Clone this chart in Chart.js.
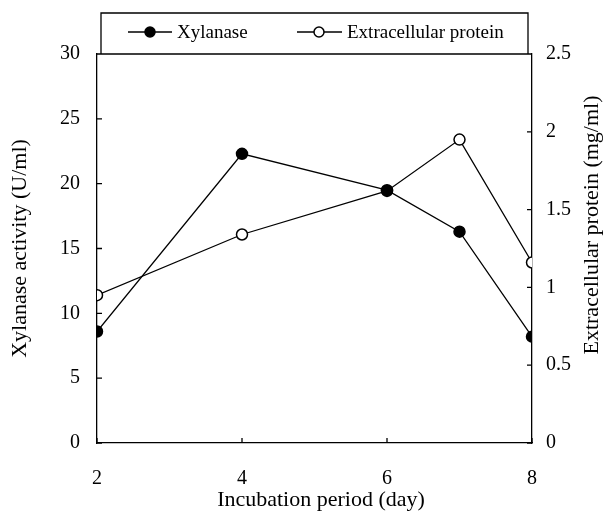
<!DOCTYPE html>
<html><head><meta charset="utf-8">
<script src="https://cdn.jsdelivr.net/npm/chart.js@4/dist/chart.umd.min.js"></script>
<style>html,body{margin:0;padding:0;background:#fff}#wrap{width:603px;height:512px}</style>
</head><body><div id="wrap"><canvas id="c" width="603" height="512"></canvas></div>
<script>
const days = [2, 4, 6, 7, 8];
const xylanase = [8.6, 22.3, 19.5, 16.3, 8.2];
const protein = [0.95, 1.34, 1.62, 1.95, 1.16];
const xTicks = [2, 4, 6, 8];
const leftTicks = [0, 5, 10, 15, 20, 25, 30];
const rightTicks = [0, 0.5, 1, 1.5, 2, 2.5];
const seriesNames = ['Xylanase', 'Extracellular protein'];
const xTitle = 'Incubation period (day)';
const leftTitle = 'Xylanase activity (U/ml)';
const rightTitle = 'Extracellular protein (mg/ml)';

const FONT = "'Liberation Serif', 'Times New Roman', serif";
const tickFont = {family: FONT, size: 20};
const titleFont = {family: FONT, size: 22};
const LW = 1.3;

const frameAndTicks = {
  id: 'frameAndTicks',
  afterDraw(chart) {
    const ctx = chart.ctx, a = chart.chartArea;
    const sx = chart.scales.x, sy = chart.scales.y, sy2 = chart.scales.y2;
    ctx.save();
    ctx.strokeStyle = '#000';
    ctx.lineWidth = LW;
    ctx.beginPath();
    ctx.moveTo(a.left, a.top); ctx.lineTo(a.right, a.top);
    const tl = 5;
    xTicks.forEach(v => { const px = sx.getPixelForValue(v); ctx.moveTo(px, a.bottom); ctx.lineTo(px, a.bottom - tl); });
    leftTicks.forEach(v => { const py = sy.getPixelForValue(v); ctx.moveTo(a.left, py); ctx.lineTo(a.left + tl, py); });
    rightTicks.forEach(v => { const py = sy2.getPixelForValue(v); ctx.moveTo(a.right, py); ctx.lineTo(a.right - tl, py); });
    // legend box (sides and top)
    const lx0 = a.left + 4, lx1 = a.right - 4, ly0 = 13;
    ctx.moveTo(lx0, a.top); ctx.lineTo(lx0, ly0); ctx.lineTo(lx1, ly0); ctx.lineTo(lx1, a.top);
    ctx.stroke();
    // legend items
    const ly = 32;
    const items = [
      {x0: 128, x1: 172, mx: 150, tx: 177, fill: '#000', label: seriesNames[0]},
      {x0: 297, x1: 342, mx: 319, tx: 347, fill: '#fff', label: seriesNames[1]}
    ];
    ctx.font = "19px " + FONT;
    ctx.textBaseline = 'middle';
    ctx.textAlign = 'left';
    ctx.fillStyle = '#000';
    items.forEach(it => {
      ctx.beginPath(); ctx.moveTo(it.x0, ly); ctx.lineTo(it.x1, ly); ctx.stroke();
      ctx.beginPath(); ctx.arc(it.mx, ly, 5, 0, Math.PI * 2);
      ctx.fillStyle = it.fill; ctx.fill(); ctx.lineWidth = 1.5; ctx.stroke(); ctx.lineWidth = LW;
      ctx.fillStyle = '#000';
      ctx.fillText(it.label, it.tx, ly + 1);
    });
    ctx.font = "22px " + FONT;
    ctx.textAlign = 'center';
    ctx.textBaseline = 'middle';
    // x axis title
    ctx.fillText(xTitle, 321, 500);
    // right axis title, reading bottom-to-top
    ctx.save();
    ctx.translate(592, 225);
    ctx.rotate(-Math.PI / 2);
    ctx.fillText(rightTitle, 0, 0);
    ctx.restore();
    ctx.restore();
  }
};

new Chart(document.getElementById('c'), {
  type: 'line',
  data: {
    datasets: [
      {label: seriesNames[0], data: days.map((d, i) => ({x: d, y: xylanase[i]})), yAxisID: 'y',
       borderColor: '#000', borderWidth: LW, backgroundColor: '#000', pointBackgroundColor: '#000',
       pointBorderColor: '#000', pointRadius: 5.5, pointBorderWidth: 1.5, tension: 0},
      {label: seriesNames[1], data: days.map((d, i) => ({x: d, y: protein[i]})), yAxisID: 'y2',
       borderColor: '#000', borderWidth: LW, backgroundColor: '#fff', pointBackgroundColor: '#fff',
       pointBorderColor: '#000', pointRadius: 5.5, pointBorderWidth: 1.5, tension: 0}
    ]
  },
  options: {
    responsive: false,
    animation: false,
    devicePixelRatio: 1,
    layout: {padding: {left: 0, right: 0, top: 54, bottom: 0}},
    plugins: {legend: {display: false}, tooltip: {enabled: false}},
    scales: {
      x: {
        type: 'linear', position: 'bottom', min: 2, max: 8,
        afterBuildTicks: s => { s.ticks = xTicks.map(v => ({value: v})); },
        afterFit: s => { s.height = 69; },
        grid: {display: false},
        border: {display: true, color: '#000', width: LW},
        ticks: {font: tickFont, color: '#000', padding: 16, maxRotation: 0, autoSkip: false, callback: v => String(v)}
      },
      y: {
        position: 'left', min: 0, max: 30,
        afterBuildTicks: s => { s.ticks = leftTicks.map(v => ({value: v})); },
        afterFit: s => { s.width = 97; },
        grid: {display: false},
        border: {display: true, color: '#000', width: LW},
        ticks: {font: tickFont, color: '#000', padding: 9, callback: v => String(v)},
        title: {display: true, text: leftTitle, font: titleFont, color: '#000', padding: {top: 7, bottom: 0}}
      },
      y2: {
        position: 'right', min: 0, max: 2.5,
        afterBuildTicks: s => { s.ticks = rightTicks.map(v => ({value: v})); },
        afterFit: s => { s.width = 71; },
        grid: {display: false},
        border: {display: true, color: '#000', width: LW},
        ticks: {font: tickFont, color: '#000', padding: 6, callback: v => String(v)}
      }
    }
  },
  plugins: [frameAndTicks]
});
</script></body></html>
